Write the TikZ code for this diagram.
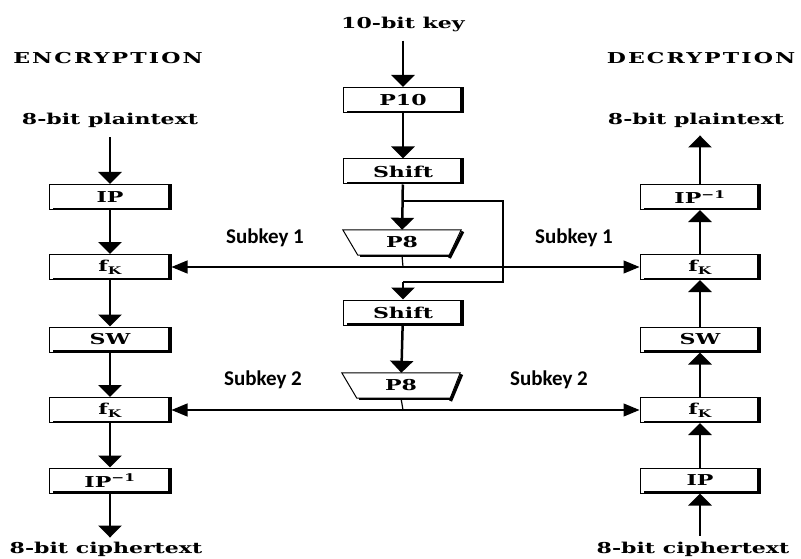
\documentclass[tikz,border=0pt]{standalone}
\usepackage{fontspec}
\setmainfont{DejaVu Serif}[FakeStretch=1.47]
\newfontfamily\subfont{Carlito}
\usetikzlibrary{arrows.meta}
\begin{document}
\begin{tikzpicture}[x=1pt,y=-1pt,
  box/.style={draw, line width=1pt, fill=white, minimum width=120pt, minimum height=25pt,
    inner sep=0pt, font=\bfseries\fontsize{15}{15}\selectfont,
    path picture={
      \draw[line width=6pt] (path picture bounding box.north east) -- (path picture bounding box.south east);
      \draw[line width=3.5pt] ([xshift=4pt]path picture bounding box.south west) -- (path picture bounding box.south east);
    }},
  trapbase/.style={minimum width=118pt, minimum height=25pt, inner sep=0pt,
    font=\bfseries\fontsize{15}{15}\selectfont},
  lbl/.style={font=\bfseries\fontsize{15}{15}\selectfont, inner sep=2pt},
  head/.style={font=\bfseries\fontsize{15}{15}\selectfont\addfontfeatures{LetterSpace=14}, inner sep=2pt},
  sk/.style={font=\subfont\bfseries\fontsize{21}{21}\selectfont, inner sep=1pt},
  varrow/.style={line width=2.5pt, -{Triangle[width=23pt,length=12pt]}},
  hline/.style={line width=1.2pt},
  bline/.style={line width=1.5pt},
  harrow/.style={line width=1.2pt, -{Triangle[width=13pt,length=16pt]}},
  sideshadow/.style={line width=3pt, line cap=rect},
  baseshadow/.style={line width=2pt}
]
\useasboundingbox (0,0) rectangle (801,559);
\fill[white] (0,0) rectangle (801,559);

% headings and texts
\node[head] (enc) at (108,58) {ENCRYPTION};
\node[head] (dec) at (701,58) {DECRYPTION};
\node[lbl] (key) at (403,24) {10-bit key};
\node[lbl] (ept) at (110,120) {8-bit plaintext};
\node[lbl] (dpt) at (696,120) {8-bit plaintext};
\node[lbl] (ect) at (106,549) {8-bit ciphertext};
\node[lbl] (dct) at (693,549) {8-bit ciphertext};

% encryption column
\node[box, minimum width=122pt] (eip)  at (110,197) {IP};
\node[box, minimum width=122pt] (ef1)  at (110,267) {f\textsubscript{K}};
\node[box, minimum width=122pt] (esw)  at (110,339.5) {SW};
\node[box, minimum width=122pt] (ef2)  at (110,410) {f\textsubscript{K}};
\node[box, minimum width=122pt] (eipi) at (110,480.5) {IP\textsuperscript{−1}};

% decryption column
\node[box] (dipi) at (700,197) {IP\textsuperscript{−1}};
\node[box] (df1)  at (700,267) {f\textsubscript{K}};
\node[box] (dsw)  at (700,339.5) {SW};
\node[box] (df2)  at (700,410) {f\textsubscript{K}};
\node[box] (dip)  at (700,480.5) {IP};

% key schedule
\node[box] (p10) at (403,100) {P10};
\node[box] (sh1) at (403,171.5) {Shift};
\node[box] (sh2) at (403,312.5) {Shift};

\node[trapbase] (p8a) at (402,242.5) {};
\filldraw[fill=white, line width=1pt] (p8a.north west) -- (p8a.north east) -- ([xshift=-12pt]p8a.south east) -- ([xshift=15pt]p8a.south west) -- cycle;
\draw[sideshadow] ([xshift=1pt,yshift=-3pt]p8a.north east) -- ([xshift=-11pt,yshift=-1.5pt]p8a.south east);
\draw[baseshadow] ([xshift=17pt,yshift=-1pt]p8a.south west) -- ([xshift=-11pt,yshift=-1pt]p8a.south east);
\node[trapbase] at (p8a) {P8};

\node[trapbase] (p8b) at (401,385.5) {};
\filldraw[fill=white, line width=1pt] (p8b.north west) -- (p8b.north east) -- ([xshift=-10pt]p8b.south east) -- ([xshift=15pt]p8b.south west) -- cycle;
\draw[sideshadow] ([xshift=1pt,yshift=-3pt]p8b.north east) -- ([xshift=-9pt,yshift=-1.5pt]p8b.south east);
\draw[baseshadow] ([xshift=17pt,yshift=-1pt]p8b.south west) -- ([xshift=-9pt,yshift=-1pt]p8b.south east);
\node[trapbase] at (p8b) {P8};

% subkey labels
\node[sk] (sk1l) at (265,238) {Subkey 1};
\node[sk] (sk1r) at (574,238) {Subkey 1};
\node[sk] (sk2l) at (263,380) {Subkey 2};
\node[sk] (sk2r) at (549,380) {Subkey 2};

% coordinates
\coordinate (j1) at (403,267);
\coordinate (j2) at (403,410);
\coordinate (b1) at (403,201);
\coordinate (b2) at (503,201);
\coordinate (b3) at (503,282);
\coordinate (b4) at (403,282);

% vertical arrows, encryption
\draw[varrow, shorten <=8pt] (eip |- ept.south) -- (eip);
\draw[varrow] (eip) -- (ef1);
\draw[varrow] (ef1) -- (esw);
\draw[varrow] (esw) -- (ef2);
\draw[varrow] (ef2) -- (eipi);
\draw[varrow, shorten >=2pt] (eipi) -- (eipi |- ect.north);

% vertical arrows, decryption
\draw[varrow, shorten <=4pt] (dip |- dct.north) -- (dip);
\draw[varrow] (dip) -- (df2);
\draw[varrow] (df2) -- (dsw);
\draw[varrow] (dsw) -- (df1);
\draw[varrow] (df1) -- (dipi);
\draw[varrow, shorten >=6pt] (dipi) -- (dipi |- dpt.south);

% key schedule arrows
\draw[varrow, shorten <=7pt] (key) -- (p10);
\draw[varrow] (p10) -- (sh1);
\draw[varrow] (sh1) -- (p8a);
\draw[bline] (b1) -- (b2) -- (b3) -- (b4);
\draw[varrow] (b4) -- (sh2);
\draw[varrow] (sh2) -- (p8b);

% subkey distribution
\draw[hline] (p8a.south) -- (j1);
\draw[harrow] (j1) -- (ef1.east);
\draw[harrow] (j1) -- (df1.west);
\draw[hline] (p8b.south) -- (j2);
\draw[harrow] (j2) -- (ef2.east);
\draw[harrow] (j2) -- (df2.west);
\end{tikzpicture}
\end{document}
